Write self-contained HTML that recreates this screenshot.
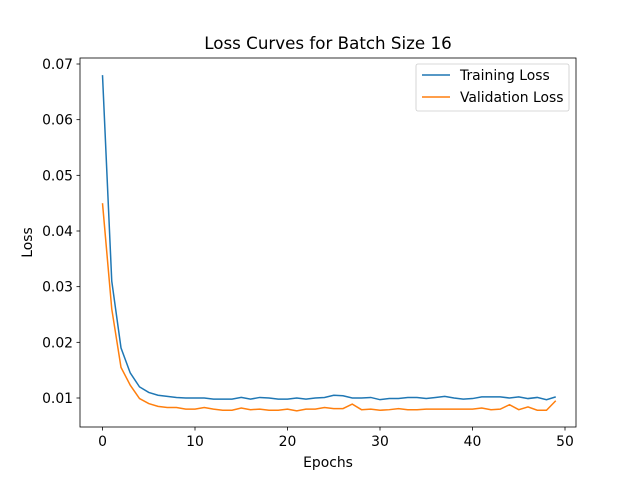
<!DOCTYPE html>
<html><head><meta charset="utf-8"><style>
body{margin:0;background:#fff}
svg text{font-family:"DejaVu Sans","Liberation Sans",sans-serif;fill:#000}
</style></head><body>
<svg id="chart" width="640" height="480" xmlns="http://www.w3.org/2000/svg">
<text x="328" y="49" font-size="16.7" text-anchor="middle">Loss Curves for Batch Size 16</text>
<rect x="80" y="58" width="496" height="369" fill="none" stroke="#000" stroke-width="0.8"/>
<g id="xticks"></g><g id="yticks"></g><g id="lines"></g>
<text x="328" y="467" font-size="13.9" text-anchor="middle">Epochs</text>
<text transform="translate(32,242.5) rotate(-90)" font-size="13.9" text-anchor="middle">Loss</text>
<g>
<rect x="416" y="64" width="153" height="47" rx="2" fill="#fff" fill-opacity="0.8" stroke="#ccc" stroke-width="0.8"/>
<line x1="422" y1="75" x2="450" y2="75" stroke="#1f77b4" stroke-width="1.5"/>
<text x="460" y="80" font-size="13.9">Training Loss</text>
<line x1="422" y1="97" x2="450" y2="97" stroke="#ff7f0e" stroke-width="1.5"/>
<text x="460" y="102" font-size="13.9">Validation Loss</text>
</g>
</svg>
<script>
const xTicks=[0,10,20,30,40,50];
const yTicks=[0.01,0.02,0.03,0.04,0.05,0.06,0.07];
const yTickLabels=["0.01","0.02","0.03","0.04","0.05","0.06","0.07"];
const training=[0.068,0.031,0.019,0.0145,0.012,0.011,0.0105,0.0103,0.0101,0.0100,0.0100,0.0100,0.0098,0.0098,0.0098,0.0101,0.0098,0.0101,0.0100,0.0098,0.0098,0.0100,0.0098,0.0100,0.0101,0.0105,0.0104,0.0100,0.0100,0.0101,0.0097,0.0099,0.0099,0.0101,0.0101,0.0099,0.0101,0.0103,0.0100,0.0098,0.0099,0.0102,0.0102,0.0102,0.0100,0.0102,0.0099,0.0101,0.0097,0.0102];
const validation=[0.045,0.026,0.0155,0.0123,0.0099,0.0090,0.0085,0.0083,0.0083,0.0080,0.0080,0.0083,0.0080,0.0078,0.0078,0.0082,0.0079,0.0080,0.0078,0.0078,0.0080,0.0077,0.0080,0.0080,0.0083,0.0081,0.0081,0.0089,0.0079,0.0080,0.0078,0.0079,0.0081,0.0079,0.0079,0.0080,0.0080,0.0080,0.0080,0.0080,0.0080,0.0082,0.0079,0.0080,0.0088,0.0079,0.0084,0.0078,0.0078,0.0095];
const NS="http://www.w3.org/2000/svg";
const X=v=>102.5+v*9.25;
const Y=v=>398-(v-0.01)*334/0.06;
function mk(t,a,p){const e=document.createElementNS(NS,t);for(const k in a)e.setAttribute(k,a[k]);p.appendChild(e);return e;}
const xg=document.getElementById('xticks');
xTicks.forEach(t=>{
 const l=mk('line',{x1:X(t),x2:X(t),y1:427,y2:430.5,stroke:'#000','stroke-width':0.8},xg);
 
 
 const tx=mk('text',{x:X(t),y:446,'font-size':13.9,'text-anchor':'middle'},xg);tx.textContent=t;
 
 
});
const yg=document.getElementById('yticks');
yTicks.forEach((t,i)=>{
 const l=mk('line',{x1:76.5,x2:80,y1:Y(t),y2:Y(t),stroke:'#000','stroke-width':0.8},yg);
 
 
 const tx=mk('text',{x:73,y:Y(t)+5,'font-size':13.9,'text-anchor':'end'},yg);tx.textContent=yTickLabels[i];
 
 
});
const lg=document.getElementById('lines');
[[training,'#1f77b4','training-loss-line'],[validation,'#ff7f0e','validation-loss-line']].forEach(([d,c,n])=>{
 const p=mk('polyline',{points:d.map((v,i)=>X(i)+','+Y(v)).join(' '),fill:'none',stroke:c,'stroke-width':1.5},lg);
 
 
});
</script>
</body></html>
